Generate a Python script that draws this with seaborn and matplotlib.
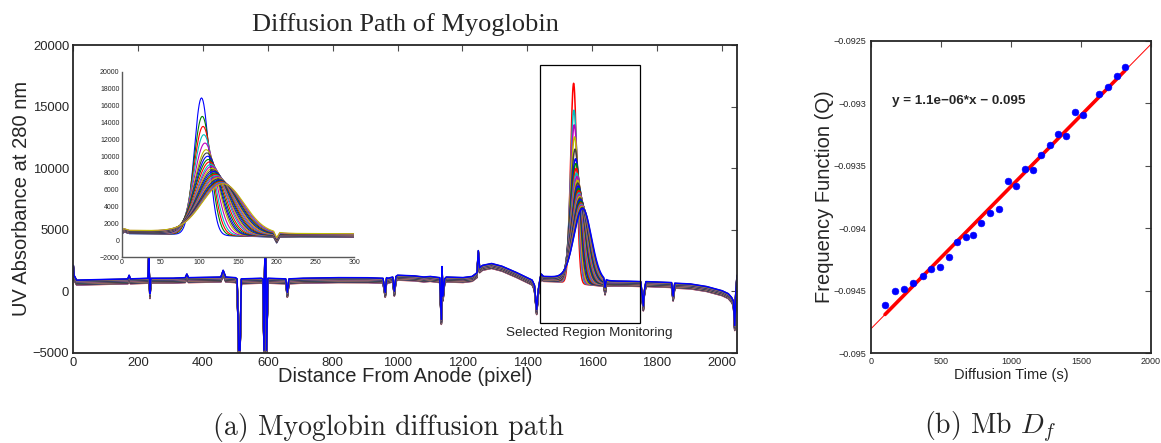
import numpy as np
import pandas as pd
import matplotlib
matplotlib.use("Agg")
import matplotlib.pyplot as plt
from matplotlib.patches import Rectangle
from matplotlib.ticker import FuncFormatter
import seaborn as sns

# ---------------- data: panel (a) ----------------
# baseline profile of the first (lowest) trace (pixel, absorbance)
base_x = [0, 2, 10, 100, 168, 172, 176, 230, 233, 234, 236, 239, 300, 345, 350, 355, 455, 462, 470,
          500, 505, 510, 514, 518, 580, 585, 588, 592, 596, 600, 655, 660, 665, 700, 800, 900, 955,
          962, 966, 970, 985, 990, 995, 1000, 1050, 1080, 1100, 1130, 1135, 1137, 1140, 1145, 1150,
          1200, 1230, 1245, 1249, 1253, 1262, 1290, 1320, 1360, 1400, 1415, 1422, 1429, 1434, 1440,
          1443, 1450, 1500, 1520, 1636, 1640, 1644, 1660, 1700, 1750, 1758, 1761, 1766, 1800, 1845,
          1850, 1855, 1900, 1950, 2000, 2020, 2030, 2036, 2040, 2043, 2047]
base_y = [1700, 900, 500, 550, 600, 900, 600, 650, 2900, 1200, -600, 650, 650, 700, 1000, 700, 750, 1300, 750,
          700, 600, -5200, -5200, 600, 650, 600, -5200, 7000, -5200, 650, 600, -500, 600, 650, 700, 700, 650,
          -500, 700, 650, 750, -400, 800, 900, 850, 750, 800, 700, -2700, 1600, -800, 600, 750,
          700, 800, 1100, 2900, 1500, 1700, 1850, 1650, 1200, 700, 500, 100, -1900, -300, 700,
          1000, 800, 750, 700, 400, -300, 400, 420, 420, 380, -1600, -400, 380, 350, 300,
          -800, 250, 200, 0, -350, -600, -900, -1200, -3200, -600, 900]

# per-trace values: peak maximum, peak position (inset pixel), width
peak_top = [17000, 14800, 13600, 12600, 11600, 10800, 10400, 10000, 9600, 9300, 9000, 8750, 8500,
            8300, 8100, 7900, 7750, 7600, 7450, 7300, 7150, 7000, 6900, 6800, 6700, 6600, 6500]
peak_pos = [103, 104, 105, 106, 107.5, 109, 110, 111, 112, 113.5, 115, 116, 117, 118, 119, 120,
            121, 122, 123, 124, 125, 126, 127, 128, 129, 130, 131]
peak_width = [9.5, 11.0, 12.0, 13.0, 14.2, 15.3, 16.0, 16.6, 17.4, 18.0, 18.7, 19.3, 19.9, 20.4,
              21.0, 21.5, 22.0, 22.5, 23.0, 23.5, 24.1, 24.6, 25.0, 25.5, 25.9, 26.3, 26.8]
base_shift = [0, 15, 30, 50, 60, 80, 95, 105, 125, 140, 150, 170, 185, 195, 215, 230, 240, 260,
              275, 285, 305, 320, 330, 350, 365, 380, 400]
region_start = 1440
region_end = 1748

# ---------------- data: panel (b) ----------------
diff_time = [102, 174, 238, 300, 371, 433, 495, 556, 616, 680, 732, 790, 849, 918, 980, 1037,
             1101, 1160, 1218, 1279, 1336, 1394, 1455, 1515, 1631, 1691, 1755, 1814]
freq_q = [-0.094613, -0.094501, -0.094482, -0.094437, -0.094378, -0.094322, -0.094312, -0.094226,
          -0.094111, -0.094071, -0.094056, -0.093954, -0.093879, -0.093842, -0.093618, -0.093658,
          -0.093525, -0.093533, -0.093415, -0.093335, -0.093247, -0.093260, -0.093071, -0.093090,
          -0.092924, -0.092866, -0.092777, -0.092705]

matlab_colors = [(0, 0, 1), (0, 0.5, 0), (1, 0, 0), (0, 0.75, 0.75), (0.75, 0, 0.75),
                 (0.75, 0.75, 0), (0.25, 0.25, 0.25)]

sns.set_style("white")
plt.rcParams['font.family'] = ['Liberation Sans', 'DejaVu Sans']
plt.rcParams['mathtext.fontset'] = 'cm'
plt.rcParams['axes.unicode_minus'] = True

W, H = 1161, 443
fig = plt.figure(figsize=(W / 100, H / 100), dpi=100)

# build traces
pix = np.arange(2048)
base = np.interp(pix, base_x, base_y)
traces = []
for i in range(len(peak_top)):
    c = region_start + peak_pos[i]
    amp = peak_top[i] - 750
    tr = base + base_shift[i] + amp * np.exp(-0.5 * ((pix - c) / peak_width[i]) ** 2)
    traces.append(tr)

# ---------- main axes ----------
ax = fig.add_axes([0.0632, 0.2038, 0.5719, 0.6946])
for i, tr in enumerate(traces):
    sns.lineplot(x=pix, y=tr, ax=ax, color=matlab_colors[(i + 2) % 7], lw=1.1,
                 estimator=None, sort=False, errorbar=None)
ax.set_xlim(0, 2048)
ax.set_ylim(-5000, 20000)
ax.set_xticks(np.arange(0, 2001, 200))
ax.set_yticks(np.arange(-5000, 20001, 5000))
ax.tick_params(direction='in', top=True, right=True, length=4, width=0.8, labelsize=9.4,
               pad=3, color='0.3')
for s in ax.spines.values():
    s.set_linewidth(1.3)
    s.set_color('0.15')
ax.set_xlabel("Distance From Anode (pixel)", fontsize=14.5, labelpad=-1)
ax.set_ylabel("UV Absorbance at 280 nm", fontsize=14.5, labelpad=1)
fig.text(405 / W, 1 - 25 / H, "Diffusion Path of Myoglobin", fontsize=19,
         family=['Liberation Serif'], ha='center', va='center')
ax.add_patch(Rectangle((region_start, -2550), region_end - region_start, 18400 + 2550,
                       fill=False, ec='black', lw=0.9, zorder=5))
ax.text(1591, -3380, "Selected Region Monitoring", fontsize=9.7, ha='center', va='center')

# ---------- inset ----------
axi = fig.add_axes([0.1048, 0.4192, 0.2003, 0.4190])
axi.set_facecolor('white')
sel = (pix >= region_start) & (pix <= region_start + 300)
for i, tr in enumerate(traces):
    sns.lineplot(x=pix[sel] - region_start, y=tr[sel], ax=axi, color=matlab_colors[i % 7], lw=0.8,
                 estimator=None, sort=False, errorbar=None)
axi.set_xlim(0, 300)
axi.set_ylim(-2000, 20000)
axi.set_xticks(np.arange(0, 301, 50))
axi.set_yticks(np.arange(-2000, 20001, 2000))
axi.tick_params(direction='in', length=2, width=0.6, labelsize=5, pad=1.5, color='0.3')
axi.spines['top'].set_visible(False)
axi.spines['right'].set_visible(False)
for s in ['left', 'bottom']:
    axi.spines[s].set_linewidth(1.0)
    axi.spines[s].set_color('0.35')

# ---------- right panel ----------
axr = fig.add_axes([0.7500, 0.2025, 0.2414, 0.7050])
axr.set_xlim(0, 2000)
axr.set_ylim(-0.095, -0.0925)
df = pd.DataFrame({"t": diff_time, "q": freq_q})
sns.regplot(data=df, x="t", y="q", ax=axr, ci=None, truncate=False, scatter=False,
            line_kws=dict(color='red', lw=0.7))
sns.regplot(data=df, x="t", y="q", ax=axr, ci=None, truncate=True, scatter=False,
            line_kws=dict(color='red', lw=2.6))
sns.scatterplot(data=df, x="t", y="q", ax=axr, color='blue', s=24, edgecolor='blue', zorder=5)
axr.set_xlim(0, 2000)
axr.set_ylim(-0.095, -0.0925)
axr.set_xticks([0, 500, 1000, 1500, 2000])
axr.set_yticks([-0.095, -0.0945, -0.094, -0.0935, -0.093, -0.0925])
axr.yaxis.set_major_formatter(FuncFormatter(lambda v, _: f"{v:g}".replace('-', '\u2212')))
axr.tick_params(direction='in', top=True, right=True, length=4, width=0.8, labelsize=6.5,
                pad=3, color='0.3')
for s in axr.spines.values():
    s.set_linewidth(1.3)
    s.set_color('0.15')
axr.set_xlabel("Diffusion Time (s)", fontsize=10.5, labelpad=1)
axr.set_ylabel("Frequency Function (Q)", fontsize=14.5, labelpad=0)
axr.text(150, -0.09298, "y = 1.1e\u221206*x \u2212 0.095", fontsize=9.7, fontweight='bold',
         ha='left', va='center')

# ---------- captions ----------
fig.text(388 / W, 1 - 427 / H, "(a) Myoglobin diffusion path", fontsize=20, family='cmr10',
         ha='center', va='center')
fig.text(990 / W, 1 - 427 / H, r"(b) Mb $D_f$", fontsize=20, family='cmr10', ha='center',
         va='center')

fig.savefig("out.png", dpi=100)
